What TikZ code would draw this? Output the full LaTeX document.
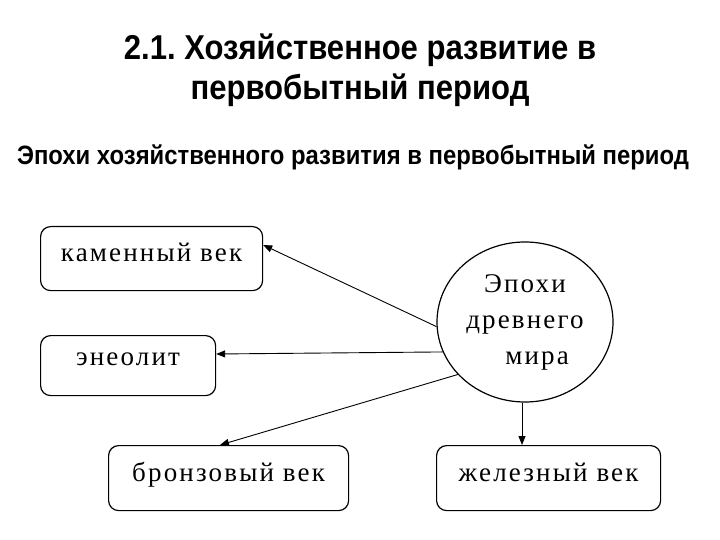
\documentclass[tikz,border=0pt]{standalone}
\usepackage{fontspec}
\setmainfont{Liberation Serif}
\newfontfamily\headfont[FakeStretch=0.9]{Liberation Sans}
\newfontfamily\boxfont[LetterSpace=8]{Liberation Serif}
\usetikzlibrary{arrows.meta,shapes.geometric}
\frenchspacing

\tikzset{
  epoch/.style={draw, line width=1.2pt, rounded corners=10pt, anchor=north west, inner sep=0pt, text depth=12pt, font=\boxfont\fontsize{27}{30}\selectfont},
  hub/.style={draw, ellipse, line width=1.2pt, minimum width=176pt, minimum height=160pt, inner sep=0pt, align=center, font=\boxfont\fontsize{27}{36}\selectfont},
  tip/.style={-{Triangle[length=9pt,width=7pt]}, line width=0.9pt}
}

\begin{document}
\begin{tikzpicture}[x=1pt, y=-1pt]
  \useasboundingbox[fill=white] (0,0) rectangle (720,540);
  % headings
  \node[font=\headfont\bfseries\fontsize{34.5}{40}\selectfont, align=center] (title) at (360,70)
    {2.1. Хозяйственное развитие в\\первобытный период};
  \node[font=\headfont\bfseries\fontsize{26.5}{28}\selectfont] (sub) at (353,157)
    {Эпохи хозяйственного развития в первобытный период};
  % epochs
  \node[epoch, minimum width=222pt, minimum height=64pt] (stone) at (40,226) {каменный век};
  \node[epoch, minimum width=175pt, minimum height=60pt] (eneo) at (40,335) {энеолит};
  \node[epoch, minimum width=240pt, minimum height=65pt] (bronze) at (108,445) {бронзовый век};
  \node[epoch, minimum width=224pt, minimum height=65pt] (iron) at (436,445) {железный век};
  \node[hub] (ancient) at (525,322) {Эпохи\\древнего\\\hspace{24pt}мира};
  \path[tip]
  (ancient.183) edge (stone.east |- 0,245)
  (ancient.200) edge (eneo.east |- 0,354)
  (ancient.218) edge (bronze.north -| 220,0)
  (ancient.south -| 522,0) edge (iron.north -| 522,0)
  ;
\end{tikzpicture}
\end{document}
